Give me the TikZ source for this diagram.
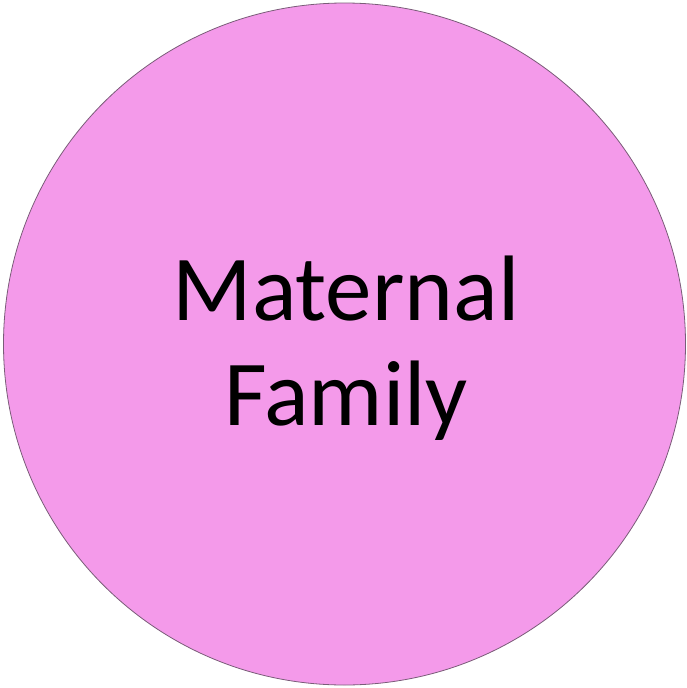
\documentclass[tikz,border=0pt]{standalone}
\usepackage{fontspec}
\setmainfont{Carlito}
\usepackage{xcolor}
\definecolor{orchidpink}{HTML}{F49AEA}
\definecolor{rimgray}{HTML}{7A5C78}

\begin{document}
\begin{tikzpicture}[
    x=1pt, y=-1pt,
    familycircle/.style={circle, draw=rimgray, line width=0.8pt, fill=orchidpink, minimum size=682pt, inner sep=0pt},
    familytext/.style={align=center, text=black, inner sep=0pt, font=\fontsize{93}{105}\selectfont}
]
    \useasboundingbox (0,0) rectangle (687,688);

    % Background disc
    \node[familycircle] (maternal) at (344.5, 344) {};

    % Label
    \node[familytext, anchor=base] (maternalLabel) at (346, 425) {Maternal\\Family};
\end{tikzpicture}
\end{document}
